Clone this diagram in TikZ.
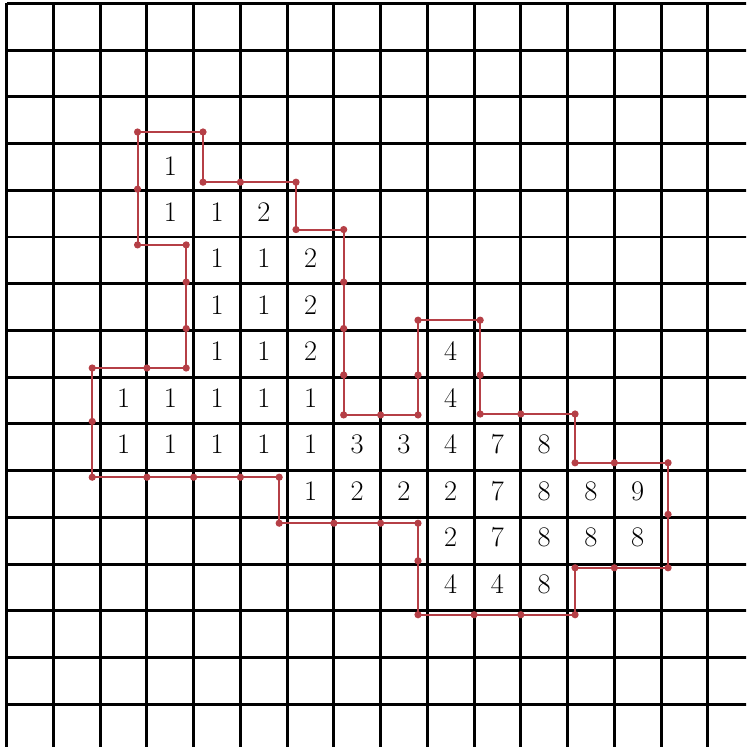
\documentclass[tikz,border=0pt]{standalone}
\usepackage{amsmath}
\usepackage{xcolor}
\usetikzlibrary{arrows.meta}

\definecolor{rougecontour}{RGB}{181,63,70}

\begin{document}
\begin{tikzpicture}[x=1cm, y=0.994cm,
                    quadrillage/.style={line width=1.8pt, black},
                    contour/.style={line width=1.2pt, rougecontour, line join=round},
                    point/.style={fill=rougecontour},
                    chiffre/.style={inner sep=0pt, font=\fontsize{18.4}{22}\selectfont}]

            \useasboundingbox (-0.143,0.071) rectangle (15.821,-16.05);
            \clip (-0.143,0.071) rectangle (15.821,-16.05);

            % Quadrillage
            \draw[quadrillage] (0,0) grid (16,-16);

            % Valeurs dans les cases (colonne/ligne/valeur)
            \foreach \c/\r/\v in {3/3/1,
                                  3/4/1, 4/4/1, 5/4/2,
                                  4/5/1, 5/5/1, 6/5/2,
                                  4/6/1, 5/6/1, 6/6/2,
                                  4/7/1, 5/7/1, 6/7/2, 9/7/4,
                                  2/8/1, 3/8/1, 4/8/1, 5/8/1, 6/8/1, 9/8/4,
                                  2/9/1, 3/9/1, 4/9/1, 5/9/1, 6/9/1, 7/9/3, 8/9/3, 9/9/4, 10/9/7, 11/9/8,
                                  6/10/1, 7/10/2, 8/10/2, 9/10/2, 10/10/7, 11/10/8, 12/10/8, 13/10/9,
                                  9/11/2, 10/11/7, 11/11/8, 12/11/8, 13/11/8,
                                  9/12/4, 10/12/4, 11/12/8}
                \node[chiffre] (case-\c-\r) at (\c+0.5,-\r-0.5) {$\v$};

            % Sommets du contour
            \coordinate (p1) at (2.80,-2.77);
            \coordinate (p2) at (4.20,-2.77);
            \coordinate (p3) at (4.20,-3.85);
            \coordinate (p4) at (6.19,-3.85);
            \coordinate (p5) at (6.19,-4.87);
            \coordinate (p6) at (7.21,-4.87);
            \coordinate (p7) at (7.21,-8.86);
            \coordinate (p8) at (8.80,-8.86);
            \coordinate (p9) at (8.80,-6.82);
            \coordinate (p10) at (10.13,-6.82);
            \coordinate (p11) at (10.13,-8.84);
            \coordinate (p12) at (12.16,-8.84);
            \coordinate (p13) at (12.16,-9.89);
            \coordinate (p14) at (14.15,-9.89);
            \coordinate (p15) at (14.15,-12.15);
            \coordinate (p16) at (12.16,-12.15);
            \coordinate (p17) at (12.16,-13.16);
            \coordinate (p18) at (8.80,-13.16);
            \coordinate (p19) at (8.80,-11.19);
            \coordinate (p20) at (5.83,-11.19);
            \coordinate (p21) at (5.83,-10.20);
            \coordinate (p22) at (1.83,-10.20);
            \coordinate (p23) at (1.83,-7.85);
            \coordinate (p24) at (3.84,-7.85);
            \coordinate (p25) at (3.84,-5.20);
            \coordinate (p26) at (2.80,-5.20);

            % Contour
            \draw[contour] (p1) -- (p2) -- (p3) -- (p4) -- (p5) -- (p6) -- (p7)
                -- (p8) -- (p9) -- (p10) -- (p11) -- (p12) -- (p13) -- (p14)
                -- (p15) -- (p16) -- (p17) -- (p18) -- (p19) -- (p20) -- (p21)
                -- (p22) -- (p23) -- (p24) -- (p25) -- (p26) -- cycle;

            % Points aux sommets
            \foreach \i in {1,...,26}
                \fill[point] (p\i) circle (2.2pt);

            % Points sur les lignes du quadrillage
            \foreach \x/\y in {2.80/4, 5/3.85, 7.21/6, 7.21/7, 7.21/8, 8/8.86,
                               8.80/8, 10.13/8, 11/8.84, 13/9.89, 14.15/11,
                               13/12.15, 10/13.16, 11/13.16, 8.80/12, 7/11.19,
                               8/11.19, 3/10.20, 4/10.20, 5/10.20, 1.83/9,
                               3/7.85, 3.84/6, 3.84/7}
                \fill[point] (\x,-\y) circle (2.2pt);

        \end{tikzpicture}
\end{document}
